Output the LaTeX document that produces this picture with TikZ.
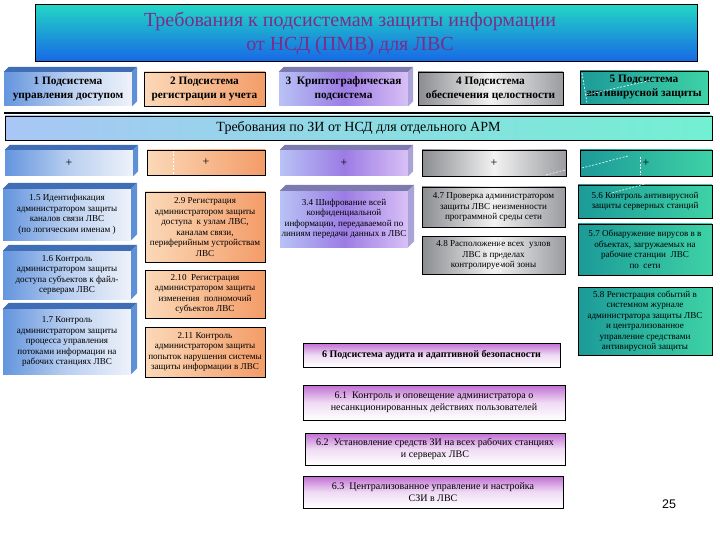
\documentclass[tikz,border=0pt]{standalone}
\usepackage{fontspec}
\setmainfont{Liberation Serif}
\newfontfamily\numfont{Liberation Sans}
\definecolor{ttop}{HTML}{22D6C6}
\definecolor{tbot}{HTML}{1766E6}
\definecolor{tpurp}{HTML}{7A2C8C}
\definecolor{bluL}{HTML}{6495DE}
\definecolor{bluM}{HTML}{B9CFF0}
\definecolor{bluR}{HTML}{EEF2FA}
\definecolor{bluTop}{HTML}{3F6EB6}
\definecolor{bluSide}{HTML}{5E90D8}
\definecolor{orL}{HTML}{FBD9B8}
\definecolor{orR}{HTML}{F39C68}
\definecolor{puL}{HTML}{B8C2F6}
\definecolor{puM}{HTML}{9C7CE4}
\definecolor{puR}{HTML}{D8C0F6}
\definecolor{puTop}{HTML}{7C7AAE}
\definecolor{puSide}{HTML}{A9A3D8}
\definecolor{siL}{HTML}{8A8C90}
\definecolor{siM}{HTML}{F2F2F2}
\definecolor{siR}{HTML}{9A9CA0}
\definecolor{teL}{HTML}{1C9A98}
\definecolor{teR}{HTML}{3ED2A6}
\definecolor{bnL}{HTML}{A9C6F6}
\definecolor{bnR}{HTML}{72F0D2}
\definecolor{vioT}{HTML}{C06ED2}
\newcommand{\bevelfaces}[4]{%
  \fill[#3] (#1.north west) -- ++(#2,-#2) -- ([shift={(#2,-#2)}]#1.north east) -- (#1.north east) -- cycle;
  \fill[#4] (#1.north east) -- ++(#2,-#2) -- ([shift={(#2,-#2)}]#1.south east) -- (#1.south east) -- cycle;}
\tikzset{
  sm/.style={font=\fontsize{9.1}{10.5}\selectfont, align=center, text=black, inner sep=1pt},
  bt/.style={font=\fontsize{10}{11.5}\selectfont, align=center, text=black, inner sep=1pt},
  hd/.style={font=\fontsize{11.3}{14}\selectfont\bfseries, align=center, text=black, inner sep=0.5pt},
  bluebox/.style={left color=bluL, right color=bluR, middle color=bluM},
  orbox/.style={draw=black, line width=0.8pt, left color=orL, right color=orR},
  pubox/.style={left color=puL, right color=puR, middle color=puM},
  sibox/.style={draw=black, line width=0.8pt, left color=siL, right color=siR, middle color=siM},
  tebox/.style={draw=black, line width=0.8pt, left color=teL, right color=teR},
  viobox/.style={draw=black, line width=0.8pt, top color=vioT, bottom color=white, middle color=white!75!vioT},
  wdash/.style={white, dashed, line width=0.6pt, dash pattern=on 2pt off 1.5pt},
}
\begin{document}
\begin{tikzpicture}[x=1pt,y=-1pt]
\useasboundingbox[fill=white] (0,0) rectangle (720,540);
% title
\node[draw=black, line width=1pt, top color=ttop, bottom color=tbot, minimum width=662pt, minimum height=57pt] (title) at (366,33.5) {};
\node[font=\fontsize{20}{24}\selectfont, text=tpurp, align=center] (titletext) at (350,33.5)
  {Требования к подсистемам защиты информации\\от НСД (ПМВ) для ЛВС};
% header row
\node[bluebox, hd, minimum width=128pt, minimum height=34pt] (h1) at (68,89) {1 Подсистема\\управления доступом};
\bevelfaces{h1}{5}{bluTop}{bluSide}
\node[orbox, hd, minimum width=121pt, minimum height=34pt] (h2) at (204.5,89) {2 Подсистема\\регистрации и учета};
\node[pubox, hd, minimum width=129pt, minimum height=34pt] (h3) at (343.5,89) {3~ Криптографическая\\подсистема};
\bevelfaces{h3}{5}{puTop}{puSide}
\node[sibox, hd, minimum width=145pt, minimum height=33pt] (h4) at (490.5,88.5) {4 Подсистема\\обеспечения целостности};
\node[tebox, hd, minimum width=128pt, minimum height=33pt] (h5) at (644,87.5) {5 Подсистема\\антивирусной защиты};
\draw[wdash] (582,73) -- (587,103);
\draw[wdash] (586,95) -- (652,80);
% separator
\coordinate (l1) at (4,113);
\coordinate (l2) at (710,113);
\draw[line width=1.3pt] (l1) -- (l2);
% banner
\node[draw=black, line width=0.9pt, left color=bnL, right color=bnR, minimum width=707pt, minimum height=24pt,
  font=\fontsize{14}{15}\selectfont, text=black] (banner) at (358.5,128) {Требования по ЗИ от НСД для отдельного АРМ};
% plus row
\node[bluebox, minimum width=128pt, minimum height=26pt, font=\fontsize{12}{13}\selectfont] (p1) at (69,163) {+};
\bevelfaces{p1}{5}{bluTop}{bluSide}
\node[orbox, minimum width=118pt, minimum height=25pt, font=\fontsize{12}{13}\selectfont] (p2) at (206,162.5) {+};
\draw[wdash] (173,151) -- (173,174);
\node[pubox, minimum width=128pt, minimum height=26pt, font=\fontsize{12}{13}\selectfont] (p3) at (344,163) {+};
\bevelfaces{p3}{5}{puTop}{puSide}
\node[sibox, minimum width=144pt, minimum height=26pt, font=\fontsize{12}{13}\selectfont] (p4) at (494,163) {+};
\draw[wdash] (546,175) -- (565,170);
\node[tebox, minimum width=132pt, minimum height=26pt, font=\fontsize{12}{13}\selectfont] (p5) at (646,163) {+};
\draw[wdash] (582,168) -- (628,156);
\draw[wdash] (640,157) -- (640,175);
% column 1
\node[bluebox, sm, minimum width=128pt, minimum height=51pt] (c15) at (67,214.5)
  {1.5 Идентификация\\администратором защиты\\каналов связи ЛВС\\(по логическим именам )};
\bevelfaces{c15}{6}{bluTop}{bluSide}
\node[bluebox, sm, minimum width=128pt, minimum height=48pt] (c16) at (67,275)
  {1.6 Контроль\\администратором защиты\\доступа субъектов к файл-\\серверам ЛВС};
\bevelfaces{c16}{6}{bluTop}{bluSide}
\node[bluebox, sm, minimum width=128pt, minimum height=65pt] (c17) at (67,341.5)
  {1.7 Контроль\\администратором защиты\\процесса управления\\потоками информации на\\рабочих станциях ЛВС};
\bevelfaces{c17}{6}{bluTop}{bluSide}
% column 2
\node[orbox, sm, minimum width=120pt, minimum height=70pt] (c29) at (205,227)
  {2.9 Регистрация\\администратором защиты\\доступа~ к узлам ЛВС,\\каналам связи,\\периферийным устройствам\\ЛВС};
\node[orbox, sm, minimum width=120pt, minimum height=48pt] (c210) at (205,294)
  {2.10~ Регистрация\\администратором защиты\\изменения~ полномочий\\субъектов ЛВС};
\node[orbox, sm, minimum width=120pt, minimum height=50pt] (c211) at (205,352)
  {2.11 Контроль\\администратором защиты\\попыток нарушения системы\\защиты информации в ЛВС};
% column 3
\node[pubox, sm, minimum width=128pt, minimum height=56pt] (c34) at (344,219)
  {3.4 Шифрование всей\\конфиденциальной\\информации, передаваемой по\\линиям передачи данных в ЛВС};
\bevelfaces{c34}{6}{puTop}{puSide}
% column 4
\node[sibox, sm, minimum width=143pt, minimum height=40pt] (c47) at (493.5,207)
  {4.7 Проверка администратором\\защиты ЛВС неизменности\\программной среды сети};
\node[sibox, sm, minimum width=143pt, minimum height=38pt] (c48) at (493.5,255)
  {4.8 Расположение всех~ узлов\\ЛВС в пределах\\контролируемой зоны};
\draw[wdash] (500,238) -- (500,272);
% column 5
\node[tebox, sm, minimum width=134pt, minimum height=33pt] (c56) at (645,201.5)
  {5.6 Контроль антивирусной\\защиты серверных станций};
\draw[wdash] (612,193) -- (648,183);
\node[tebox, sm, minimum width=134pt, minimum height=51pt] (c57) at (645,249.5)
  {5.7 Обнаружение вирусов в в\\объектах, загружаемых на\\рабочие станции~ ЛВС\\по~ сети};
\node[tebox, sm, minimum width=134pt, minimum height=68pt] (c58) at (645,321)
  {5.8 Регистрация событий в\\системном журнале\\администратора защиты ЛВС\\и централизованное\\управление средствами\\антивирусной защиты};
% bottom
\node[viobox, bt, minimum width=257pt, minimum height=24pt] (b6) at (431.5,355)
  {\textbf{6 Подсистема аудита и адаптивной безопасности}};
\node[viobox, bt, minimum width=262pt, minimum height=35pt] (b61) at (434,402.5)
  {6.1~ Контроль и оповещение администратора о\\несанкционированных действиях пользователей};
\node[viobox, bt, minimum width=260pt, minimum height=32pt] (b62) at (435,449)
  {6.2~ Установление средств ЗИ на всех рабочих станциях\\и серверах ЛВС};
\node[viobox, bt, minimum width=260pt, minimum height=32pt] (b63) at (433,492)
  {6.3~ Централизованное управление и настройка\\СЗИ в ЛВС};
% page number
\node[font=\numfont\fontsize{12.5}{14}\selectfont, text=black] (pg) at (669,504) {25};
\end{tikzpicture}
\end{document}
